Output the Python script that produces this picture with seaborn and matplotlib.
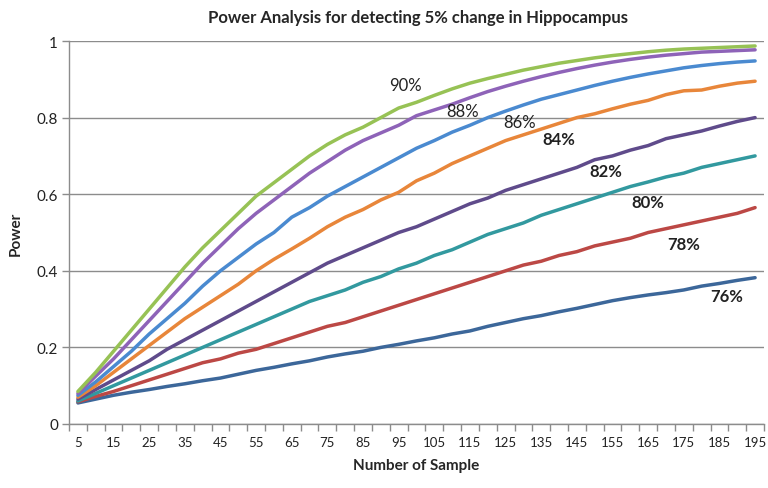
import numpy as np
import pandas as pd
import matplotlib
matplotlib.use("Agg")
import matplotlib.pyplot as plt
import seaborn as sns

samples = list(range(5, 200, 5))

p76 = [0.055, 0.065, 0.075, 0.083, 0.09, 0.098, 0.105, 0.113, 0.12, 0.13, 0.14, 0.148, 0.157, 0.165,
       0.175, 0.183, 0.19, 0.20, 0.208, 0.217, 0.225, 0.235, 0.243, 0.255, 0.265, 0.275, 0.283, 0.293,
       0.302, 0.312, 0.322, 0.33, 0.337, 0.343, 0.35, 0.36, 0.367, 0.375, 0.382]
p78 = [0.058, 0.072, 0.085, 0.10, 0.115, 0.13, 0.145, 0.16, 0.17, 0.185, 0.195, 0.21, 0.225, 0.24,
       0.255, 0.265, 0.28, 0.295, 0.31, 0.325, 0.34, 0.355, 0.37, 0.385, 0.40, 0.415, 0.425, 0.44,
       0.45, 0.465, 0.475, 0.485, 0.50, 0.51, 0.52, 0.53, 0.54, 0.55, 0.565]
p80 = [0.06, 0.08, 0.10, 0.12, 0.14, 0.16, 0.18, 0.20, 0.22, 0.24, 0.26, 0.28, 0.30, 0.32,
       0.335, 0.35, 0.37, 0.385, 0.405, 0.42, 0.44, 0.455, 0.475, 0.495, 0.51, 0.525, 0.545, 0.56,
       0.575, 0.59, 0.605, 0.62, 0.632, 0.645, 0.655, 0.67, 0.68, 0.69, 0.70]
p82 = [0.065, 0.09, 0.115, 0.14, 0.165, 0.195, 0.22, 0.245, 0.27, 0.295, 0.32, 0.345, 0.37, 0.395,
       0.42, 0.44, 0.46, 0.48, 0.50, 0.515, 0.535, 0.555, 0.575, 0.59, 0.61, 0.625, 0.64, 0.655,
       0.67, 0.69, 0.70, 0.715, 0.727, 0.745, 0.755, 0.765, 0.778, 0.79, 0.80]
p84 = [0.07, 0.10, 0.135, 0.17, 0.205, 0.24, 0.275, 0.305, 0.335, 0.365, 0.40, 0.43, 0.457, 0.485,
       0.515, 0.54, 0.56, 0.585, 0.605, 0.635, 0.655, 0.68, 0.70, 0.72, 0.74, 0.755, 0.77, 0.785,
       0.80, 0.81, 0.823, 0.835, 0.845, 0.86, 0.87, 0.872, 0.882, 0.89, 0.895]
p86 = [0.075, 0.11, 0.15, 0.19, 0.235, 0.275, 0.315, 0.36, 0.40, 0.435, 0.47, 0.50, 0.54, 0.565,
       0.595, 0.62, 0.645, 0.67, 0.695, 0.72, 0.74, 0.762, 0.78, 0.80, 0.817, 0.833, 0.848, 0.86,
       0.872, 0.884, 0.895, 0.905, 0.914, 0.922, 0.93, 0.936, 0.941, 0.945, 0.948]
p88 = [0.08, 0.125, 0.17, 0.22, 0.27, 0.32, 0.37, 0.42, 0.465, 0.51, 0.55, 0.585, 0.62, 0.655,
       0.685, 0.715, 0.74, 0.76, 0.78, 0.805, 0.82, 0.835, 0.852, 0.868, 0.882, 0.895, 0.907, 0.918,
       0.928, 0.937, 0.945, 0.952, 0.958, 0.963, 0.967, 0.971, 0.973, 0.975, 0.977]
p90 = [0.085, 0.135, 0.19, 0.245, 0.30, 0.355, 0.41, 0.46, 0.505, 0.55, 0.595, 0.63, 0.665, 0.70,
       0.73, 0.755, 0.775, 0.80, 0.825, 0.84, 0.858, 0.875, 0.89, 0.902, 0.913, 0.924, 0.933, 0.942,
       0.949, 0.956, 0.962, 0.967, 0.972, 0.976, 0.979, 0.981, 0.983, 0.985, 0.987]

series_names = ["76%", "78%", "80%", "82%", "84%", "86%", "88%", "90%"]
series_values = [p76, p78, p80, p82, p84, p86, p88, p90]
xtick_labels = [str(v) for v in range(5, 200, 10)]

colors = {"76%": "#3C679A", "78%": "#BC4845", "80%": "#32999F", "82%": "#5F4B8B",
          "84%": "#E8863A", "86%": "#4A8AD0", "88%": "#8E63B8", "90%": "#97C255"}

df = pd.DataFrame({
    "Sample": np.tile(samples, len(series_names)),
    "Power": np.concatenate(series_values),
    "Series": np.repeat(series_names, len(samples)),
})

sns.set_style("white")
plt.rcParams["font.family"] = ["Lato", "DejaVu Sans"]

fig = plt.figure(figsize=(7.68, 4.89), dpi=100)
ax = fig.add_axes([69 / 768, 1 - 425 / 489, 695 / 768, 383 / 489])

sns.lineplot(data=df, x="Sample", y="Power", hue="Series", palette=colors,
             linewidth=2.5, legend=False, ax=ax, sort=False)

ax.set_xlim(2.5, 197.5)
ax.set_ylim(0, 1)

ax.set_yticks([0, 0.2, 0.4, 0.6, 0.8, 1.0])
ax.set_yticklabels(["0", "0.2", "0.4", "0.6", "0.8", "1"], fontsize=11, color="#222222")
ax.yaxis.grid(True, color="#8c8c8c", linewidth=1.0)
ax.set_axisbelow(True)

ax.set_xticks(np.arange(2.5, 198, 5), minor=False)
ax.set_xticklabels([])
ax.set_xticks(list(range(5, 200, 10)), minor=True)
ax.set_xticklabels(xtick_labels, minor=True, fontsize=9.5, color="#222222")
ax.tick_params(axis="x", which="major", length=5, width=1, color="#8c8c8c", direction="out", bottom=True)
ax.tick_params(axis="x", which="minor", length=0, pad=9)
ax.tick_params(axis="y", which="major", length=5, width=1, color="#8c8c8c", direction="out", left=True, pad=3)

for s in ["top", "right"]:
    ax.spines[s].set_visible(False)
for s in ["left", "bottom"]:
    ax.spines[s].set_color("#8c8c8c")
    ax.spines[s].set_linewidth(1.0)

ax.set_xlabel("Number of Sample", fontsize=11, fontweight="bold", labelpad=7)
ax.set_ylabel("Power", fontsize=11, fontweight="bold", labelpad=10)
fig.text(0.5 * (69 + 767) / 768, 1 - 18 / 489, "Power Analysis for detecting 5% change in Hippocampus",
         ha="center", va="center", fontsize=12, fontweight="bold")

label_pos = {"90%": (97, 0.885, "normal"), "88%": (113, 0.816, "normal"), "86%": (129, 0.788, "normal"),
             "84%": (140, 0.743, "bold"), "82%": (153, 0.66, "bold"), "80%": (165, 0.58, "bold"),
             "78%": (175, 0.47, "bold"), "76%": (187, 0.333, "bold")}
for name, (xv, yv, w) in label_pos.items():
    ax.text(xv, yv, name, ha="center", va="center", fontsize=12, fontweight=w, color="#222222")

fig.savefig("out.png", dpi=100)
